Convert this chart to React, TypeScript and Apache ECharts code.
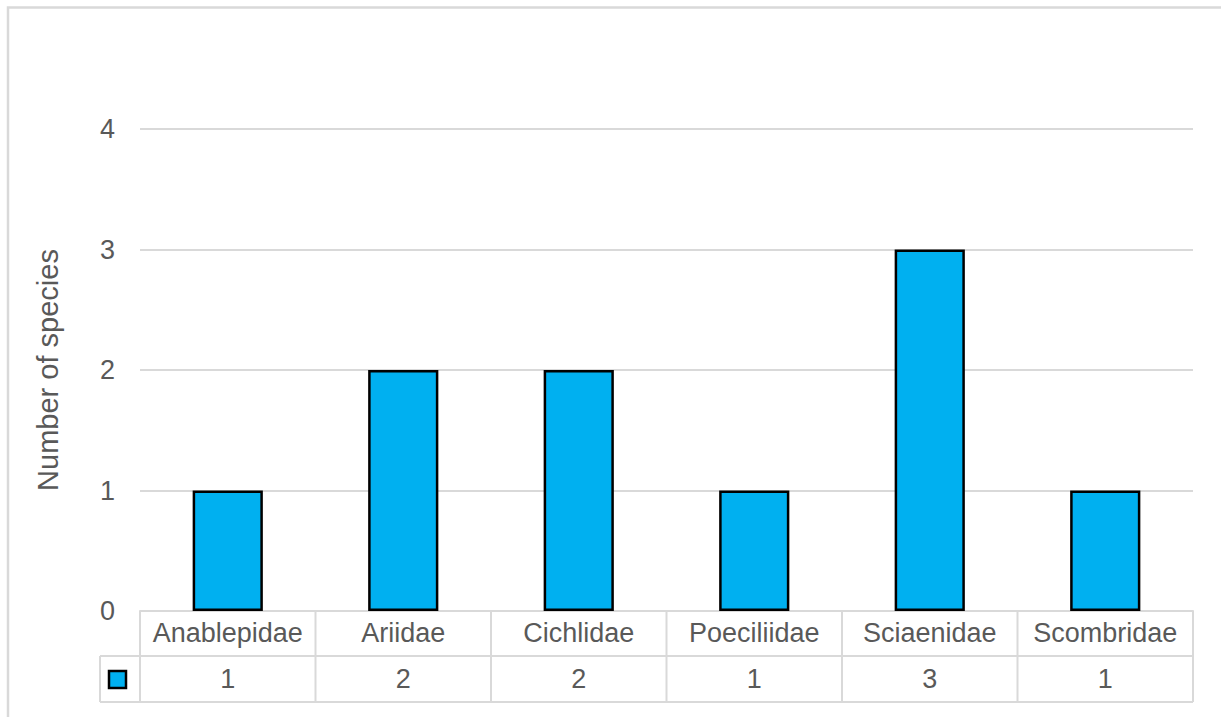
import React, { useEffect, useRef } from "react";
import * as echarts from "echarts";

const categories = ["Anablepidae", "Ariidae", "Cichlidae", "Poeciliidae", "Sciaenidae", "Scombridae"];
const speciesCounts = [1, 2, 2, 1, 3, 1];
const yAxisTitle = "Number of species";
const yMin = 0;
const yMax = 4;
const yInterval = 1;

const W = 1221;
const H = 717;
const GRID_LEFT = 140;
const GRID_RIGHT = 1193;
const GRID_TOP = 129;
const GRID_BOTTOM = 611;
const ROW1 = 656;
const ROW2 = 702;
const KEY_LEFT = 100;
const FONT = "'Liberation Sans', Arial, sans-serif";
const TEXT = "#595959";
const LINE = "#d9d9d9";
const BAR = "#00B0F0";

export default function App() {
  const ref = useRef<HTMLDivElement>(null);
  useEffect(() => {
    if (!ref.current) return;
    const chart = echarts.init(ref.current, null, { renderer: "svg" });
    const n = categories.length;
    const colW = (GRID_RIGHT - GRID_LEFT) / n;
    const tableLines: any[] = [];
    const ln = (x1: number, y1: number, x2: number, y2: number) => ({
      type: "line",
      shape: { x1, y1, x2, y2 },
      style: { stroke: LINE, lineWidth: 2 },
      silent: true,
    });
    tableLines.push(ln(KEY_LEFT, ROW1, GRID_RIGHT, ROW1));
    tableLines.push(ln(KEY_LEFT, ROW2, GRID_RIGHT, ROW2));
    tableLines.push(ln(KEY_LEFT, ROW1, KEY_LEFT, ROW2));
    for (let i = 0; i <= n; i++) {
      const x = GRID_LEFT + i * colW;
      tableLines.push(ln(x, GRID_BOTTOM, x, ROW2));
    }
    chart.setOption({
      animation: false,
      grid: {
        left: GRID_LEFT,
        right: W - GRID_RIGHT,
        top: GRID_TOP,
        bottom: H - GRID_BOTTOM,
      },
      xAxis: [
        {
          type: "category",
          data: categories,
          axisLine: { show: true, lineStyle: { color: LINE, width: 2 } },
          axisTick: { show: false },
          axisLabel: {
            color: TEXT,
            fontFamily: FONT,
            fontSize: 27,
            verticalAlign: "middle",
            margin: 22,
            interval: 0,
          },
        },
        {
          type: "category",
          position: "bottom",
          data: speciesCounts.map(String),
          axisLine: { show: false },
          axisTick: { show: false },
          splitLine: { show: false },
          axisLabel: {
            color: TEXT,
            fontFamily: FONT,
            fontSize: 27,
            verticalAlign: "middle",
            margin: 68,
            interval: 0,
          },
        },
      ],
      yAxis: {
        type: "value",
        min: yMin,
        max: yMax,
        interval: yInterval,
        name: yAxisTitle,
        nameLocation: "middle",
        nameRotate: 90,
        nameGap: 78,
        nameTextStyle: { color: TEXT, fontFamily: FONT, fontSize: 29 },
        axisLine: { show: false },
        axisTick: { show: false },
        axisLabel: { color: TEXT, fontFamily: FONT, fontSize: 27, margin: 25 },
        splitLine: { lineStyle: { color: LINE, width: 2 } },
      },
      series: [
        {
          type: "bar",
          data: speciesCounts,
          xAxisIndex: 0,
          barWidth: "40%",
          itemStyle: { color: BAR, borderColor: "#000", borderWidth: 2.5 },
        },
      ],
      graphic: [
        {
          type: "rect",
          shape: { x: 8, y: 7.5, width: 1400, height: 900 },
          style: { fill: "none", stroke: LINE, lineWidth: 2.5 },
          silent: true,
        },
        ...tableLines,
        {
          type: "rect",
          shape: { x: 109, y: 671, width: 17, height: 17 },
          style: { fill: BAR, stroke: "#000", lineWidth: 2.5 },
          silent: true,
        },
      ],
    });
    return () => chart.dispose();
  }, []);
  return (
    <div
      ref={ref}
      style={{ position: "fixed", left: 0, top: 0, width: W, height: H, background: "#fff" }}
    />
  );
}
